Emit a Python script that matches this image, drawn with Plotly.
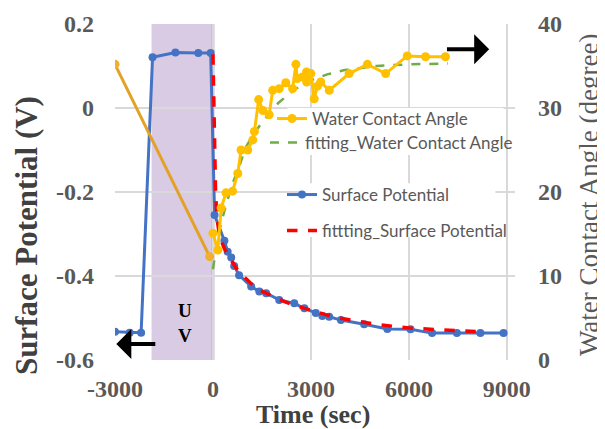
import plotly.graph_objects as go

# ---------------- data ----------------
sp_time = [-3000, -2550, -2200, -1850, -1150, -450, -70, 50, 350, 450, 560, 650, 800,
           1170, 1420, 1630, 2030, 2490, 2800, 3150, 3350, 3560, 3920, 4630, 5340,
           6050, 6710, 7470, 8190, 8900]
sp_val = [-0.533, -0.535, -0.535, 0.121, 0.132, 0.131, 0.131, -0.255, -0.316, -0.342,
          -0.356, -0.376, -0.398, -0.425, -0.437, -0.441, -0.457, -0.465, -0.477,
          -0.488, -0.495, -0.497, -0.505, -0.515, -0.526, -0.527, -0.536, -0.536,
          -0.536, -0.536]

fit_sp_time = [0, 25, 50, 80, 120, 200, 350, 500, 700, 900, 1200, 1500, 2000, 2500,
               3000, 3500, 4000, 5000, 6000, 7000, 8200]
fit_sp_val = [0.128, 0.0, -0.1, -0.2, -0.26, -0.305, -0.335, -0.355, -0.38, -0.398,
              -0.42, -0.436, -0.455, -0.47, -0.482, -0.493, -0.502, -0.515, -0.524,
              -0.529, -0.533]

wca_pre_time = [-3000, -100]
wca_pre_val = [35.2, 12.3]

wca_time = [0, 150, 250, 400, 600, 760, 860, 1065, 1220, 1270, 1400, 1530, 1720, 1830,
            2030, 2230, 2440, 2540, 2580, 2740, 2865, 2870, 3000, 3100, 3200, 3300,
            3560, 4170, 4730, 5290, 5950, 6510, 7120]
wca_val = [15.1, 13.1, 18.1, 19.9, 20.1, 22.2, 25.0, 25.0, 26.2, 27.2, 31.0, 29.7, 29.2,
           32.1, 32.3, 33.0, 32.3, 35.2, 33.5, 33.7, 34.3, 33.1, 34.1, 31.1, 32.6, 33.1,
           32.1, 34.1, 35.2, 34.1, 36.2, 36.1, 36.1]

fit_wca_time = [0, 100, 200, 400, 600, 800, 1000, 1200, 1500, 2000, 2500, 3000, 3500,
                4000, 5000, 6000, 7200]
fit_wca_val = [10.8, 13.5, 15.5, 18.5, 21, 23, 25.3, 26.6, 28.3, 30.6, 32.2, 33.3, 34.0,
               34.5, 35.0, 35.2, 35.3]

x_ticks = [-3000, 0, 3000, 6000, 9000]
y_ticks = [0.2, 0, -0.2, -0.4, -0.6]
y2_ticks = [0, 10, 20, 30, 40]
uv_start, uv_end = -1880, 0

# ---------------- figure ----------------
GREY = "#595959"
GRID = "#D9D9D9"
SERIF = "Liberation Serif"
LEG_FONT = dict(family="Lato", size=17, color=GREY)

fig = go.Figure()

fig.add_trace(go.Scatter(x=sp_time, y=sp_val, mode="lines+markers",
                         name="Surface Potential",
                         line=dict(color="#4472C4", width=3),
                         marker=dict(color="#4472C4", size=8),
                         legend="legend3"))
fig.add_trace(go.Scatter(x=fit_sp_time, y=fit_sp_val, mode="lines",
                         name="fittting_Surface Potential",
                         line=dict(color="#FF0000", width=3.5, dash="dash"),
                         legend="legend4"))
fig.add_trace(go.Scatter(x=fit_wca_time, y=fit_wca_val, mode="lines",
                         name="fitting_Water Contact Angle",
                         line=dict(color="#70AD47", width=2.5, dash="dash"),
                         yaxis="y2", legend="legend2"))
fig.add_trace(go.Scatter(x=wca_pre_time, y=wca_pre_val, mode="lines+markers",
                         showlegend=False,
                         line=dict(color="#E3A126", width=3),
                         marker=dict(color="#F2AE2E", size=9),
                         yaxis="y2"))
fig.add_trace(go.Scatter(x=wca_time, y=wca_val, mode="lines+markers",
                         name="Water Contact Angle",
                         line=dict(color="#FFC000", width=3),
                         marker=dict(color="#FFC000", size=9),
                         yaxis="y2", legend="legend"))

shapes = [
    dict(type="rect", xref="x", yref="paper", x0=uv_start, x1=uv_end, y0=0, y1=1,
         fillcolor="#D9CBE4", line=dict(width=0), layer="between"),
    dict(type="line", xref="x", yref="paper", x0=uv_end, x1=uv_end, y0=0, y1=1,
         line=dict(color="#BFAFD0", width=3), layer="between"),
    # legend backgrounds
    dict(type="rect", xref="x", yref="y", x0=2280, x1=8900, y0=0.0, y1=-0.112,
         fillcolor="white", line=dict(width=0), layer="between"),
    dict(type="rect", xref="x", yref="y", x0=2640, x1=8650, y0=-0.179, y1=-0.307,
         fillcolor="white", line=dict(width=0), layer="between"),
]

# page body has an 8px margin: plot area on screen is x 115..515, y 24..360
def px_x(p):
    return (p - 115) / 400.0

def px_y(p):
    return (360 - p) / 336.0

legend_common = dict(bgcolor="rgba(0,0,0,0)", font=LEG_FONT, xanchor="left",
                     yanchor="middle", itemwidth=30, borderwidth=0)

annotations = [
    dict(text="<b>U</b><br><b>V</b>", x=-870, y=-0.511, xref="x", yref="y",
         showarrow=False, font=dict(family=SERIF, size=19, color="black")),
    # arrows
    dict(x=-2960, y=-0.562, ax=-1720, ay=-0.562, xref="x", yref="y", axref="x",
         ayref="y", showarrow=True, arrowhead=1, arrowsize=1.25, arrowwidth=4,
         arrowcolor="black", text=""),
    dict(x=8460, y=0.140, ax=7120, ay=0.140, xref="x", yref="y", axref="x",
         ayref="y", showarrow=True, arrowhead=1, arrowsize=1.25, arrowwidth=4,
         arrowcolor="black", text=""),
    # axis titles
    dict(text="<b>Surface Potential (V)</b>", x=px_x(26), y=px_y(236), xref="paper",
         yref="paper", showarrow=False, textangle=-90, xanchor="center",
         yanchor="middle", font=dict(family=SERIF, size=31, color="#404040")),
    dict(text="Water Contact Angle (degree)", x=px_x(589), y=px_y(195), xref="paper",
         yref="paper", showarrow=False, textangle=-90, xanchor="center",
         yanchor="middle", font=dict(family=SERIF, size=27, color=GREY)),
    dict(text="<b>Time (sec)</b>", x=px_x(313), y=px_y(414), xref="paper",
         yref="paper", showarrow=False, xanchor="center", yanchor="middle",
         font=dict(family=SERIF, size=26, color="#404040")),
]

tickfont = dict(family=SERIF, size=24, color=GREY, weight="bold")

fig.update_layout(
    width=605, height=429,
    margin=dict(l=107, r=98, t=16, b=77, autoexpand=False),
    paper_bgcolor="white", plot_bgcolor="white",
    shapes=shapes, annotations=annotations,
    xaxis=dict(range=[-3000, 9250], tickvals=x_ticks, ticktext=[str(v) for v in x_ticks],
               showgrid=True, gridcolor=GRID, gridwidth=1.5, zeroline=False,
               showline=False, tickfont=tickfont, ticks="", ticklabelstandoff=12,
               automargin=False),
    yaxis=dict(range=[-0.6, 0.2], tickvals=y_ticks,
               ticktext=["0.2", "0", "-0.2", "-0.4", "-0.6"],
               showgrid=True, gridcolor=GRID, gridwidth=1.5, zeroline=False,
               showline=False, tickfont=tickfont, ticks="", ticklabelstandoff=20,
               automargin=False),
    yaxis2=dict(range=[0, 40], tickvals=y2_ticks, ticktext=[str(v) for v in y2_ticks],
                overlaying="y", side="right", showgrid=False, zeroline=False,
                showline=False, tickfont=tickfont, ticks="", ticklabelstandoff=22,
                automargin=False),
    legend=dict(x=px_x(272), y=px_y(119), **legend_common),
    legend2=dict(x=px_x(265), y=px_y(143), **legend_common),
    legend3=dict(x=px_x(282), y=px_y(195), **legend_common),
    legend4=dict(x=px_x(282), y=px_y(231), **legend_common),
)

fig.write_html("out.html")
